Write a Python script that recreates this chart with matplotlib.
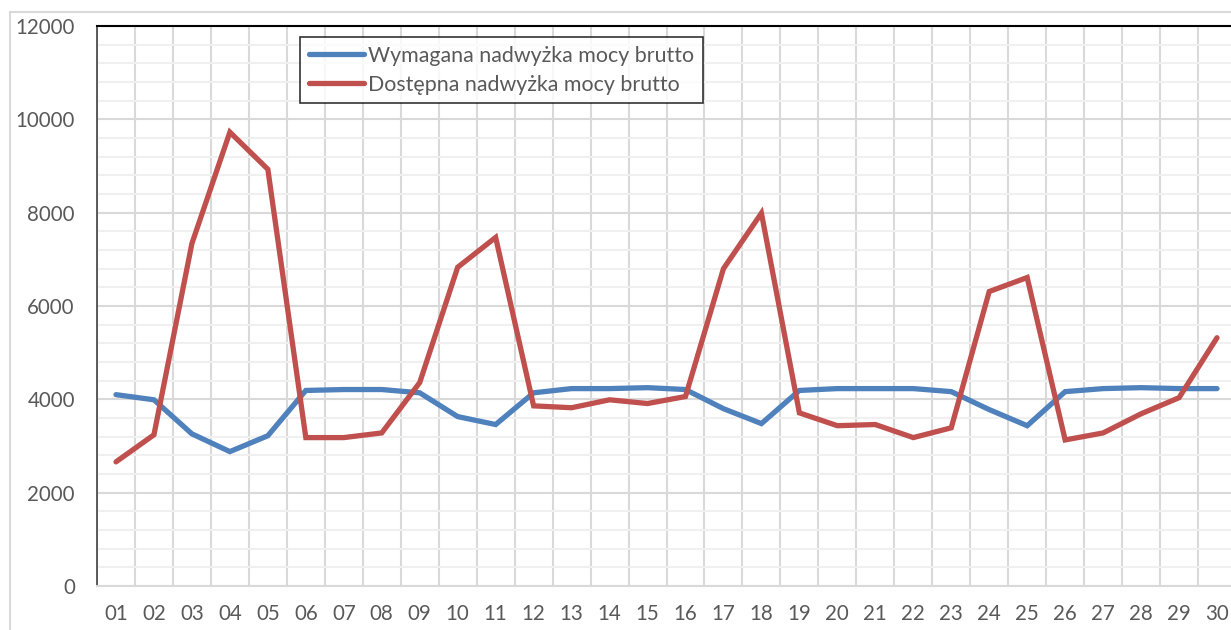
import matplotlib.pyplot as plt
from matplotlib.patches import Rectangle
from matplotlib.ticker import MultipleLocator

plt.rcParams['font.family'] = ['Lato', 'DejaVu Sans']

days = ['01', '02', '03', '04', '05', '06', '07', '08', '09', '10',
        '11', '12', '13', '14', '15', '16', '17', '18', '19', '20',
        '21', '22', '23', '24', '25', '26', '27', '28', '29', '30']

wymagana = [4100, 3990, 3260, 2880, 3220, 4190, 4210, 4210, 4140, 3630,
            3460, 4140, 4230, 4230, 4250, 4210, 3800, 3480, 4190, 4230,
            4230, 4230, 4165, 3780, 3435, 4165, 4230, 4250, 4230, 4230]

dostepna = [2660, 3240, 7340, 9725, 8930, 3180, 3180, 3280, 4360, 6830,
            7470, 3860, 3820, 3990, 3910, 4060, 6800, 7990, 3710, 3435,
            3460, 3180, 3390, 6310, 6610, 3130, 3280, 3690, 4035, 5320]

labels = ['Wymagana nadwyżka mocy brutto', 'Dostępna nadwyżka mocy brutto']

W, H = 1231, 630
fig = plt.figure(figsize=(W / 100, H / 100), dpi=100)

# outer chart border (Excel chart area)
fig.patches.append(Rectangle((10 / W, -0.1), 1.2, 1 - 12 / H + 0.1,
                             transform=fig.transFigure, fill=False,
                             edgecolor='#d9d9d9', linewidth=1.5))

ax = fig.add_axes([97 / W, (H - 586) / H, 1139 / W, 560 / H])

x = list(range(1, len(days) + 1))
ax.plot(x, wymagana, color='#4f81bd', linewidth=3.8, solid_capstyle='round',
        solid_joinstyle='miter', label=labels[0], zorder=3)
ax.plot(x, dostepna, color='#c0504d', linewidth=3.8, solid_capstyle='round',
        solid_joinstyle='miter', label=labels[1], zorder=3)

ax.set_xlim(0.5, len(days) + 0.5)
ax.set_ylim(0, 12000)
ax.set_xticks(x)
ax.set_xticklabels(days)
ax.set_xticks([i + 0.5 for i in range(len(days) + 1)], minor=True)
ax.yaxis.set_major_locator(MultipleLocator(2000))
ax.yaxis.set_minor_locator(MultipleLocator(400))

ax.grid(which='minor', axis='y', color='#f0f0f0', linewidth=1.5, zorder=0)
ax.grid(which='major', axis='y', color='#d9d9d9', linewidth=1.5, zorder=1)
ax.grid(which='minor', axis='x', color='#d9d9d9', linewidth=1.5, zorder=1)

ax.tick_params(which='both', length=0)
ax.tick_params(axis='x', pad=13, labelsize=14.8, labelcolor='#595959')
ax.tick_params(axis='y', pad=16, labelsize=14.8, labelcolor='#595959')

ax.spines['top'].set_color('black')
ax.spines['top'].set_linewidth(1.5)
ax.spines['left'].set_color('#404040')
ax.spines['left'].set_linewidth(1.2)
ax.spines['bottom'].set_color('#d9d9d9')
ax.spines['bottom'].set_linewidth(1.5)
ax.spines['right'].set_visible(False)

leg = ax.legend(loc='upper left', bbox_to_anchor=(300 / W, 1 - 37 / H),
                bbox_transform=fig.transFigure, borderaxespad=0,
                fontsize=15.4, frameon=True, fancybox=False,
                handlelength=2.6, handletextpad=0.2, borderpad=0.4,
                labelspacing=0.42)
leg.get_frame().set_edgecolor('black')
leg.get_frame().set_linewidth(1.2)
for t in leg.get_texts():
    t.set_color('#595959')

fig.savefig('out.png', dpi=100)
